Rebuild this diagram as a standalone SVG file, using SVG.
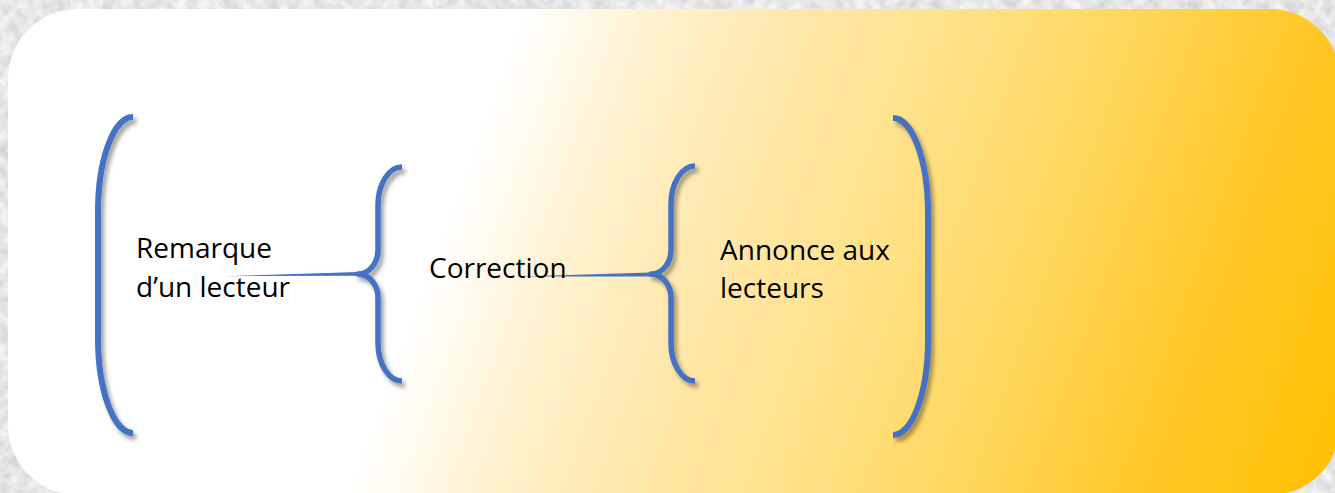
<svg xmlns="http://www.w3.org/2000/svg" width="1335" height="493" viewBox="0 0 1335 493">
  <defs>
    <filter id="granite" filterUnits="userSpaceOnUse" x="0" y="0" width="1335" height="493">
      <feTurbulence type="fractalNoise" baseFrequency="0.09" numOctaves="4" seed="7" result="n"/>
      <feColorMatrix in="n" type="matrix" values="0.45 0 0 0 0.57  0.45 0 0 0 0.57  0.45 0 0 0 0.57  0 0 0 0 1"/>
    </filter>
    <linearGradient id="panelGrad" gradientUnits="userSpaceOnUse" x1="8" y1="9" x2="1340" y2="495">
      <stop offset="0" stop-color="#FFFFFF"/>
      <stop offset="0.342" stop-color="#FFFFFF"/>
      <stop offset="0.429" stop-color="#FFF2D0"/>
      <stop offset="0.509" stop-color="#FFE9B0"/>
      <stop offset="0.627" stop-color="#FFE28A"/>
      <stop offset="0.745" stop-color="#FFD75E"/>
      <stop offset="0.845" stop-color="#FFCB30"/>
      <stop offset="0.879" stop-color="#FFC624"/>
      <stop offset="1" stop-color="#FFC000"/>
    </linearGradient>
    <filter id="shadow" x="-50%" y="-10%" width="200%" height="120%">
      <feDropShadow dx="3" dy="4" stdDeviation="2.2" flood-color="#000000" flood-opacity="0.38"/>
    </filter>
    <style>
      .br { fill: none; stroke: #4472C4; stroke-width: 6; stroke-linecap: butt; stroke-linejoin: round; }
      .bc { fill: none; stroke: #4472C4; stroke-width: 5.5; stroke-linecap: butt; stroke-linejoin: round; }
      .wedge { fill: #4472C4; }
      .lbl { font-family: "Open Sans", "Noto Sans", "Liberation Sans", sans-serif; font-size: 28px; fill: #000000; }
    </style>
  </defs>

  <rect x="0" y="0" width="1335" height="493" fill="#C8C8C8"/>
  <rect x="0" y="0" width="1335" height="493" filter="url(#granite)"/>

  <rect id="panel" x="8" y="9" width="1332" height="486" rx="70" ry="70" fill="url(#panelGrad)"/>

  <g id="bracket-left" filter="url(#shadow)">
    <path class="br" d="M133,117 A35,95 0 0 0 98,212 L98,338 A35,95 0 0 0 133,433"/>
  </g>
  <g id="brace-1" filter="url(#shadow)">
    <path class="bc" d="M402,167 A24,38 0 0 0 378,205 L378,250 A20,24 0 0 1 358,274 A20,24 0 0 1 378,298 L378,343 A24,38 0 0 0 402,381"/>
  </g>
  <g id="brace-2" filter="url(#shadow)">
    <path class="bc" d="M695,166 A24,38 0 0 0 671,204 L671,250 A20,24 0 0 1 651,274 A20,24 0 0 1 671,298 L671,343 A24,38 0 0 0 695,381"/>
  </g>
  <g id="bracket-right" filter="url(#shadow)">
    <path class="br" d="M893,118 A35,95 0 0 1 928,213 L928,340 A35,95 0 0 1 893,435"/>
  </g>

  <g id="connectors">
    <polygon class="wedge" points="225,276.2 358,272 358,275.8"/>
    <polygon class="wedge" points="519,276.4 651,272.6 651,276.6"/>
  </g>

  <g id="node-remarque">
    <text class="lbl" x="136" y="258">Remarque</text>
    <text class="lbl" x="136" y="297">d’un lecteur</text>
  </g>
  <g id="node-correction">
    <text class="lbl" x="429" y="278">Correction</text>
  </g>
  <g id="node-annonce">
    <text class="lbl" x="720" y="260">Annonce aux</text>
    <text class="lbl" x="720" y="298">lecteurs</text>
  </g>
</svg>
